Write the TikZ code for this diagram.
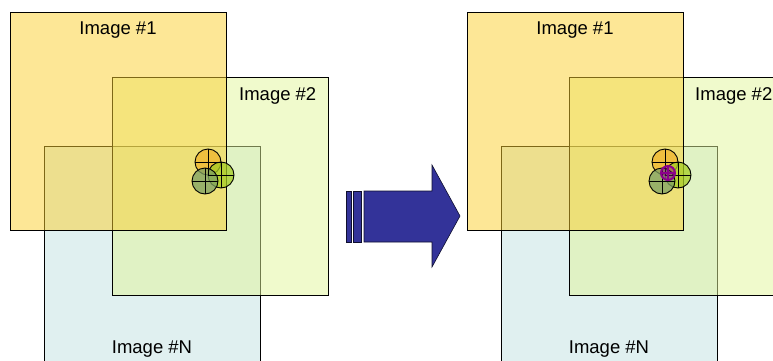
\documentclass[tikz,border=0pt]{standalone}
\usepackage{fontspec}
\setmainfont{Liberation Sans}
\usetikzlibrary{positioning}

\definecolor{imgone}{RGB}{251,207,45}
\definecolor{imgtwo}{RGB}{225,245,153}
\definecolor{imgn}{RGB}{193,225,225}
\definecolor{featorange}{RGB}{240,180,45}
\definecolor{featlime}{RGB}{165,205,35}
\definecolor{featgreen}{RGB}{125,160,100}
\definecolor{matchpurple}{RGB}{140,0,140}
\definecolor{arrowblue}{RGB}{51,51,153}

\begin{document}
\begin{tikzpicture}[x=1pt, y=1pt,
imgbox/.style={rectangle, draw=black, line width=0.9pt, fill opacity=0.5, minimum width=216pt, minimum height=218pt, inner sep=0pt, outer sep=0pt},
imglabel/.style={inner sep=0pt, font=\fontsize{18.5}{20}\selectfont},
featnode/.style={circle, draw=black, line width=0.9pt, fill opacity=0.75, minimum size=26pt, inner sep=0pt},
matchnode/.style={circle, draw=matchpurple, line width=2pt, fill=matchpurple, fill opacity=0.4, minimum size=14pt, inner sep=0pt},
]
\useasboundingbox (0,0) rectangle (773,360);
\clip (0,0) rectangle (773,360);

%Left: images before
\node[imgbox, fill=imgn]   (imgN) at (152,105)   {};
\node[imgbox, fill=imgtwo] (img2) at (220,173.5) {};
\node[imgbox, fill=imgone] (img1) at (118,239)   {};

\node[featnode, fill=featorange] (fo) at (208,198) {};
\node[featnode, fill=featlime]   (fl) at (221,185) {};
\node[featnode, fill=featgreen]  (fg) at (205,179) {};
\draw[line width=0.9pt] (fo.north) -- (fo.south) (fo.west) -- (fo.east);
\draw[line width=0.9pt] (fl.north) -- (fl.south) (fl.west) -- (fl.east);
\draw[line width=0.9pt] (fg.north) -- (fg.south) (fg.west) -- (fg.east);

\node[imglabel, anchor=north] (lab1) [below=10pt of img1.north] {Image \#1};
\node[imglabel, anchor=north east] (lab2) [below left=10pt and 11.5pt of img2.north east] {Image \#2};
\node[imglabel, anchor=south] (labN) [above=6.6pt of imgN.south] {Image \#N};

%Arrow
\fill[arrowblue, draw=black!70!arrowblue, line width=0.6pt] (346,118) rectangle (351,169);
\fill[arrowblue, draw=black!70!arrowblue, line width=0.6pt] (353,118) rectangle (361,169);
\fill[arrowblue, draw=black!70!arrowblue, line width=0.6pt]
  (364,118) -- (364,169) -- (432,169) -- (432,195) -- (460,144) -- (432,93) -- (432,118) -- cycle;

%Right: images after
\node[imgbox, fill=imgn]   (imgNb) at (609,105)   {};
\node[imgbox, fill=imgtwo] (img2b) at (677,173.5) {};
\node[imgbox, fill=imgone] (img1b) at (575,239)   {};

\node[featnode, fill=featorange] (fob) at (665,198) {};
\node[featnode, fill=featlime]   (flb) at (678,185) {};
\node[featnode, fill=featgreen]  (fgb) at (662,179) {};
\draw[line width=0.9pt] (fob.north) -- (fob.south) (fob.west) -- (fob.east);
\draw[line width=0.9pt] (flb.north) -- (flb.south) (flb.west) -- (flb.east);
\draw[line width=0.9pt] (fgb.north) -- (fgb.south) (fgb.west) -- (fgb.east);
\node[matchnode] (mp) at (668,187) {};
\draw[matchpurple, line width=1.4pt] (mp.north) -- (mp.south) (mp.west) -- (mp.east);

\node[imglabel, anchor=north] (lab1b) [below=10pt of img1b.north] {Image \#1};
\node[imglabel, anchor=north west] (lab2b) [below right=10pt and 126pt of img2b.north west] {Image \#2};
\node[imglabel, anchor=south] (labNb) [above=6.6pt of imgNb.south] {Image \#N};
\end{tikzpicture}
\end{document}
